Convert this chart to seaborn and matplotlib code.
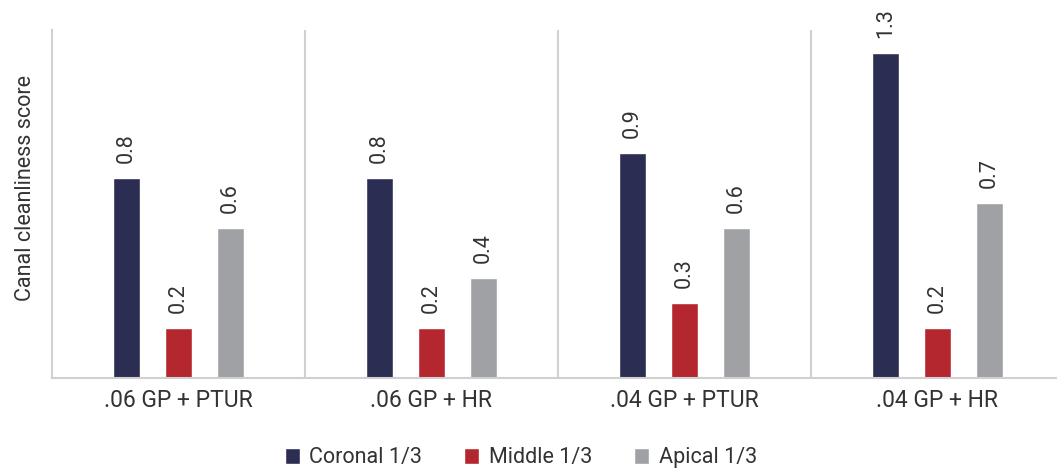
import pandas as pd
import matplotlib
matplotlib.use("Agg")
from matplotlib import pyplot as plt
import seaborn as sns

groups = ['.06 GP + PTUR', '.06 GP + HR', '.04 GP + PTUR', '.04 GP + HR']
thirds = ['Coronal 1/3', 'Middle 1/3', 'Apical 1/3']
coronal = [0.8, 0.8, 0.9, 1.3]
middle = [0.2, 0.2, 0.3, 0.2]
apical = [0.6, 0.4, 0.6, 0.7]
colors = ['#2b2d52', '#b5272f', '#a0a1a4']

df = pd.DataFrame({
    'group': groups * 3,
    'third': [t for t in thirds for _ in groups],
    'score': coronal + middle + apical,
})

sns.set_style('white')
plt.rcParams['font.family'] = ['Roboto', 'DejaVu Sans']

fig = plt.figure(figsize=(10.57, 4.71), dpi=100)
ax = fig.add_axes([52 / 1057, 93 / 471, 1012 / 1057, 348 / 471])

sns.barplot(data=df, x='group', y='score', hue='third', order=groups,
            hue_order=thirds, palette=colors, width=0.617, gap=0.48,
            saturation=1, ax=ax, legend=True)

for cont in ax.containers:
    ax.bar_label(cont, fmt='%.1f', rotation=90, padding=11, fontsize=15.5,
                 color='#333333', clip_on=False)

ax.set_xlim(-0.5, 3.5)
ax.set_ylim(0, 1.392)
ax.set_yticks([])
ax.set_xlabel('')
ax.set_ylabel('Canal cleanliness score', fontsize=15.5, color='#333333')
ax.yaxis.set_label_coords(-0.016, 0.546)
ax.tick_params(axis='x', length=0, pad=8, labelsize=16.5, labelcolor='#333333')

for x in [0.5, 1.5, 2.5]:
    ax.axvline(x, color='#d0d0d0', lw=1.5, zorder=0)
for side in ['top', 'right']:
    ax.spines[side].set_visible(False)
for side in ['left', 'bottom']:
    ax.spines[side].set_color('#d0d0d0')
    ax.spines[side].set_linewidth(1.5)

handles, labels = ax.get_legend_handles_labels()
ax.legend_.remove()
fig.legend(handles, labels, loc='center', bbox_to_anchor=(521 / 1057, 1 - 458 / 471),
           ncol=3, frameon=False, fontsize=15.5, handlelength=0.7, handleheight=0.7,
           handletextpad=0.45, columnspacing=1.95, labelcolor='#333333')

fig.savefig('out.png', dpi=100)
